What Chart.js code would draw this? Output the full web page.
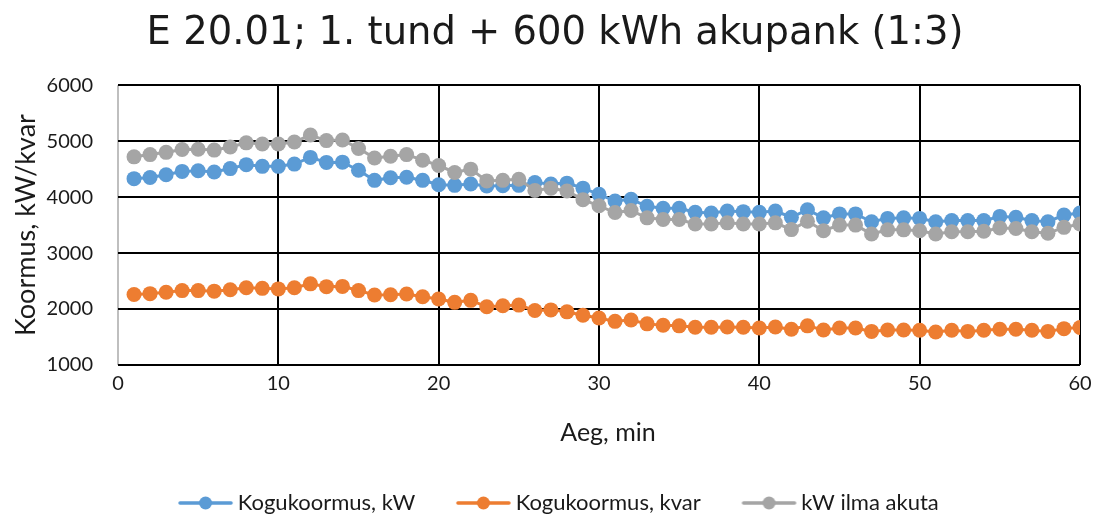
<!DOCTYPE html>
<html>
<head>
<meta charset="utf-8">
<script src="https://cdn.jsdelivr.net/npm/chart.js@4/dist/chart.umd.min.js"></script>
<style>
html,body{margin:0;padding:0;background:#fff;}
#wrap{width:1096px;height:515px;position:relative;}
</style>
</head>
<body>
<div id="wrap"><canvas id="c" width="1096" height="515"></canvas></div>
<script>
const minutes = [1,2,3,4,5,6,7,8,9,10,11,12,13,14,15,16,17,18,19,20,21,22,23,24,25,26,27,28,29,30,31,32,33,34,35,36,37,38,39,40,41,42,43,44,45,46,47,48,49,50,51,52,53,54,55,56,57,58,59,60];
const kogukoormusKW = [4330,4350,4400,4460,4470,4450,4510,4580,4550,4550,4590,4710,4620,4625,4480,4300,4345,4355,4300,4220,4210,4235,4200,4205,4210,4260,4235,4250,4160,4050,3930,3960,3835,3800,3800,3730,3715,3750,3740,3730,3750,3640,3775,3630,3700,3700,3560,3620,3630,3620,3560,3580,3580,3580,3655,3640,3580,3560,3680,3715];
const kogukoormusKvar = [2260,2275,2300,2330,2330,2320,2345,2380,2370,2360,2380,2450,2400,2405,2330,2250,2255,2270,2220,2180,2120,2155,2040,2060,2070,1975,1985,1950,1890,1840,1780,1805,1735,1710,1700,1675,1675,1680,1675,1660,1680,1640,1700,1625,1660,1660,1600,1625,1625,1620,1590,1620,1600,1620,1640,1640,1620,1600,1650,1670];
const kwIlmaAkuta = [4720,4760,4800,4850,4855,4840,4895,4970,4950,4950,4985,5110,5010,5020,4870,4700,4730,4760,4660,4565,4440,4500,4290,4300,4320,4120,4160,4110,3955,3845,3725,3760,3630,3600,3600,3520,3520,3540,3520,3520,3540,3420,3570,3400,3500,3500,3340,3415,3415,3400,3340,3380,3380,3390,3450,3440,3380,3355,3460,3520];
const seriesNames = ['Kogukoormus, kW','Kogukoormus, kvar','kW ilma akuta'];
const seriesColors = ['#5B9BD5','#ED7D31','#A5A5A5'];
const xTicks = [0,10,20,30,40,50,60];
const yTicks = [1000,2000,3000,4000,5000,6000];

const SANS = "Lato, 'Open Sans', sans-serif";
function pts(vals){ return minutes.map((m,i)=>({x:m,y:vals[i]})); }
// legend icon: line with a dot, placed at the right end of a wider transparent canvas
function icon(color){
  const C=102, a=45, w=55;
  const c=document.createElement('canvas'); c.width=C; c.height=16;
  const g=c.getContext('2d');
  g.strokeStyle=color; g.lineWidth=3.5; g.lineCap='round';
  g.beginPath(); g.moveTo(a+2,8); g.lineTo(a+w-2,8); g.stroke();
  g.fillStyle=color; g.beginPath(); g.arc(a+w/2,8,6.5,0,Math.PI*2); g.fill();
  return c;
}
const icons = seriesColors.map(icon);
const allVals=[kogukoormusKW,kogukoormusKvar,kwIlmaAkuta];
const orders=[2,1,0];
const datasets = allVals.map((v,i)=>({
  label: seriesNames[i], data: pts(v), showLine:true,
  borderColor: seriesColors[i], backgroundColor: seriesColors[i],
  borderWidth: 3, pointRadius: 7.5, pointHoverRadius:7.5, pointBorderWidth:0,
  pointBackgroundColor: seriesColors[i], order: orders[i]
}));

// small horizontal nudges of title / legend / x-title to match the reference layout
const nudge = {
  id:'nudge',
  afterLayout(chart){
    if(chart.titleBlock){ chart.titleBlock.left += 22; }
    if(chart.legend){ chart.legend.left -= 4; chart.legend.right -= 4; }
    const sx = chart.scales.x;
    if(sx && !sx._nudged){
      const orig = sx.drawTitle.bind(sx);
      sx.drawTitle = function(){ const c=this.ctx; c.save(); c.translate(9,0); orig(); c.restore(); };
      sx._nudged = true;
    }
  }
};

new Chart(document.getElementById('c'), {
  type:'scatter',
  data:{datasets},
  plugins:[nudge],
  options:{
    responsive:false, animation:false, devicePixelRatio:1,
    layout:{padding:{left:8,right:16,top:0,bottom:-9}},
    plugins:{
      tooltip:{enabled:false},
      title:{display:true,text:'E 20.01; 1. tund + 600 kWh akupank (1:3)',
        color:'#1a1a1a', font:{family:"'DejaVu Sans', Verdana, sans-serif",size:38.5,weight:'normal'},
        padding:{top:11,bottom:28}},
      legend:{position:'bottom',
        labels:{usePointStyle:true,pointStyleWidth:85.5,boxHeight:16,padding:4,color:'#1a1a1a',
          font:{family:SANS,size:22},
          generateLabels:(chart)=>{
            const items=Chart.defaults.plugins.legend.labels.generateLabels(chart);
            items.forEach(it=>{it.pointStyle=icons[it.datasetIndex];});
            return items.sort((a,b)=>a.datasetIndex-b.datasetIndex);
          }}}
    },
    scales:{
      x:{type:'linear',min:0,max:60,
        afterBuildTicks:(s)=>{s.ticks=xTicks.map(v=>({value:v}));},
        afterFit:(s)=>{s.height=123; s.paddingRight=4;},
        grid:{color:(ctx)=>ctx.tick && ctx.tick.value===0?'#bfbfbf':'#000',lineWidth:2,drawTicks:false},
        border:{display:false},
        ticks:{padding:7,color:'#1a1a1a',font:{family:SANS,size:20},callback:(v)=>String(v)},
        title:{display:true,text:'Aeg, min',color:'#1a1a1a',font:{family:SANS,size:25},padding:{top:0,bottom:40}}
      },
      y:{type:'linear',min:1000,max:6000,
        afterBuildTicks:(s)=>{s.ticks=yTicks.map(v=>({value:v}));},
        afterFit:(s)=>{s.width=110;},
        grid:{color:'#000',lineWidth:2,drawTicks:false},
        border:{display:false},
        ticks:{padding:25,color:'#1a1a1a',font:{family:SANS,size:20},callback:(v)=>String(v)},
        title:{display:true,text:'Koormus, kW/kvar',color:'#1a1a1a',font:{family:SANS,size:27},padding:{top:2,bottom:0}}
      }
    }
  }
});
</script>
</body>
</html>
